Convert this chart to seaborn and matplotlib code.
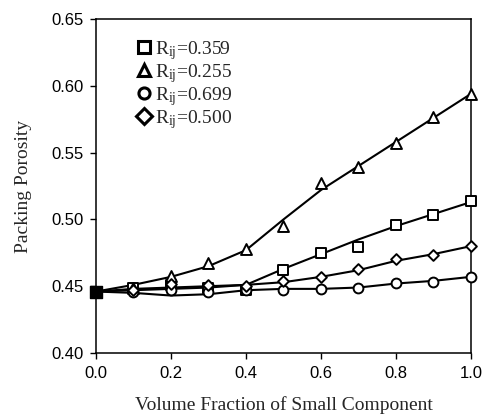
import numpy as np
import pandas as pd
import seaborn as sns
import matplotlib
matplotlib.use("Agg")
import matplotlib.pyplot as plt
from matplotlib.lines import Line2D

# ---- data ----
x_frac = [0.0, 0.1, 0.2, 0.3, 0.4, 0.5, 0.6, 0.7, 0.8, 0.9, 1.0]
labels = ["0.359", "0.255", "0.699", "0.500"]

# measured points (markers)
pts_0359 = [0.446, 0.449, 0.451, 0.449, 0.447, 0.462, 0.475, 0.4795, 0.496, 0.503, 0.5135]
pts_0255 = [0.446, 0.449, 0.458, 0.467, 0.4775, 0.495, 0.527, 0.539, 0.557, 0.5765, 0.594]
pts_0699 = [0.446, 0.446, 0.447, 0.446, 0.447, 0.447, 0.448, 0.4486, 0.4524, 0.453, 0.457]
pts_0500 = [0.446, 0.447, 0.452, 0.451, 0.450, 0.4536, 0.457, 0.4627, 0.470, 0.4733, 0.480]

# predicted curves (lines)
fit_0359 = [0.446, 0.447, 0.448, 0.449, 0.451, 0.463, 0.474, 0.485, 0.495, 0.504, 0.513]
fit_0255 = [0.446, 0.451, 0.457, 0.465, 0.477, 0.500, 0.522, 0.540, 0.558, 0.576, 0.594]
fit_0699 = [0.446, 0.445, 0.443, 0.444, 0.447, 0.448, 0.448, 0.449, 0.452, 0.454, 0.457]
fit_0500 = [0.446, 0.448, 0.449, 0.450, 0.451, 0.453, 0.457, 0.462, 0.469, 0.474, 0.480]

pts = [pts_0359, pts_0255, pts_0699, pts_0500]
fits = [fit_0359, fit_0255, fit_0699, fit_0500]
markers = ["s", "^", "o", "D"]
msizes = [62, 62, 50, 30]

sns.set_theme(style="ticks")
plt.rcParams["font.family"] = ["Liberation Serif", "DejaVu Serif"]
plt.rcParams["mathtext.fontset"] = "custom"
plt.rcParams["mathtext.rm"] = "Liberation Serif"
plt.rcParams["mathtext.it"] = "Liberation Serif:italic"

rows_p, rows_f = [], []
for lab, p, f in zip(labels, pts, fits):
    for xv, pv, fv in zip(x_frac, p, f):
        rows_p.append({"x": xv, "y": pv, "R": lab})
        rows_f.append({"x": xv, "y": fv, "R": lab})
dfp = pd.DataFrame(rows_p)
dff = pd.DataFrame(rows_f)

fig = plt.figure(figsize=(4.85, 4.17), dpi=100)
ax = fig.add_axes([96 / 485, 1 - 353 / 417, 375 / 485, 334 / 417])

for lab in labels:
    sns.lineplot(data=dff[dff.R == lab], x="x", y="y", ax=ax, color="black",
                 lw=1.5, legend=False, zorder=2)
for lab, mk, ms in zip(labels, markers, msizes):
    sns.scatterplot(data=dfp[dfp.R == lab], x="x", y="y", ax=ax, marker=mk,
                    s=ms, facecolor="white", edgecolor="black", linewidth=1.4,
                    legend=False, zorder=3, clip_on=False)
# overlapping start point appears solid
ax.scatter([x_frac[0]], [pts_0359[0]], marker="s", s=80, color="black", zorder=4,
           clip_on=False)

ax.set_xlim(0.0, 1.0)
ax.set_ylim(0.40, 0.65)
ax.set_xticks([0.0, 0.2, 0.4, 0.6, 0.8, 1.0])
ax.set_yticks([0.40, 0.45, 0.50, 0.55, 0.60, 0.65])
ax.set_xticklabels(["0.0", "0.2", "0.4", "0.6", "0.8", "1.0"])
ax.set_yticklabels(["0.40", "0.45", "0.50", "0.55", "0.60", "0.65"])
for t in ax.get_xticklabels() + ax.get_yticklabels():
    t.set_fontfamily("Liberation Sans")
    t.set_fontsize(12)
ax.tick_params(direction="out", length=4, width=1, colors="black", pad=5)
for s in ax.spines.values():
    s.set_visible(True)
    s.set_color("black")
    s.set_linewidth(1.1)

ax.set_xlabel("Volume Fraction of Small Component", fontsize=14, labelpad=11)
ax.set_ylabel("Packing Porosity", fontsize=14, labelpad=14)

handles = [Line2D([], [], ls="none", marker=mk, markersize=8, markerfacecolor="white",
                  markeredgecolor="black", markeredgewidth=2.2) for mk in markers]
leg_labels = [r"R$_{\mathrm{ij}}$=" + lab for lab in labels]
ax.legend(handles, leg_labels, loc="upper left", bbox_to_anchor=(0.08, 0.975),
          frameon=False, fontsize=14, handlelength=0.6, handletextpad=0.3,
          labelspacing=0.0, borderaxespad=0.2)

fig.savefig("out.png", dpi=100)
